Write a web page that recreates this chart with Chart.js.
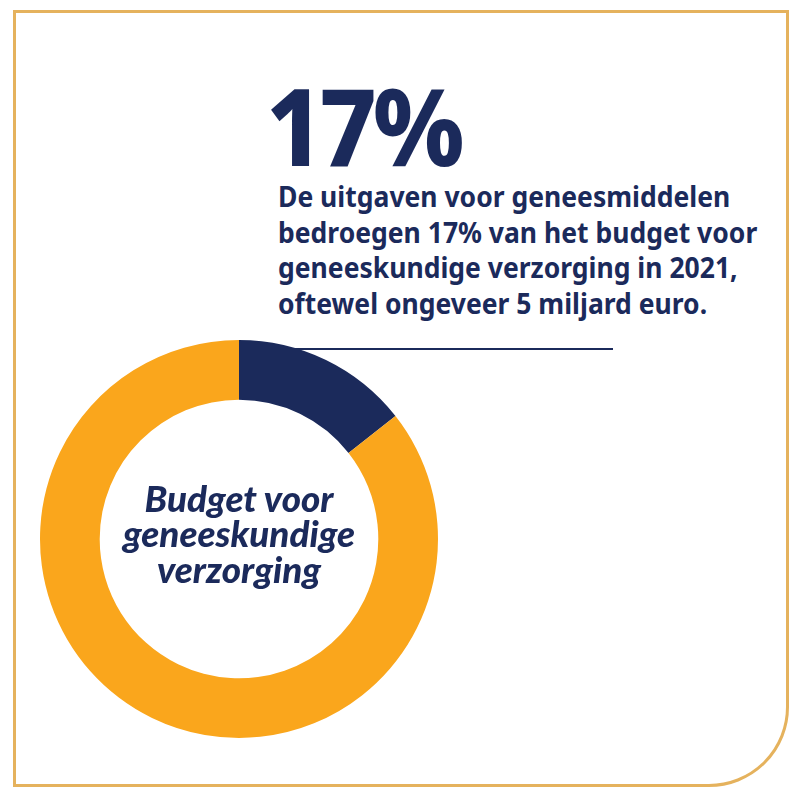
<!DOCTYPE html>
<html><head><meta charset="utf-8">
<script src="https://cdn.jsdelivr.net/npm/chart.js@4"></script>
<style>
html,body{margin:0;padding:0;background:#fff;width:800px;height:800px;overflow:hidden}
#frame{position:absolute;left:13px;top:10px;width:770px;height:771px;border:3px solid #E5B25D;border-bottom-right-radius:80px;box-sizing:content-box}
#chartBox{position:absolute;left:39px;top:339px;width:400px;height:400px}
.t{position:absolute;white-space:nowrap;color:#1B2A5B;font-family:"Noto Sans",sans-serif;transform-origin:0 0}
#big{left:266px;top:60px;font-family:"Noto Sans";font-size:107px;font-weight:800;line-height:130px;letter-spacing:-4px;transform:scaleX(.925)}
.b{left:278px;font-size:28.5px;font-weight:700;line-height:36px;transform:scaleX(.93)}
.c{left:39px;width:400px;text-align:center;font-family:Lato;font-style:italic;font-weight:900;font-size:36.8px;line-height:36px}
#rule{position:absolute;left:290px;top:348px;width:323px;height:1.5px;background:#1B2A5B}
</style></head><body>
<div id="frame"></div>
<div id="rule"></div>
<div id="chartBox"><canvas id="c" width="400" height="400"></canvas></div>
<div id="texts"></div>
<script>
const categories = ["Geneesmiddelen", "Overige geneeskundige verzorging"];
const shares = [14.4, 85.6];
const sliceColors = ["#1B2A5B", "#FAA61C"];
const bigText = "17%";
const bodyLines = ["De uitgaven voor geneesmiddelen","bedroegen 17% van het budget voor","geneeskundige verzorging in 2021,","oftewel ongeveer 5 miljard euro."];
const centerLines = ["Budget voor","geneeskundige","verzorging"];
const bodyTops = [178,214,249,285];
const centerTops = [480,515,551];

const host = document.getElementById("texts");
function add(cls, txt, top, id){
  const d=document.createElement("div");d.className="t "+cls;d.textContent=txt;
  if(id)d.id=id;if(top!=null)d.style.top=top+"px";host.appendChild(d);
}
add("", bigText, null, "big");
bodyLines.forEach((l,i)=>add("b",l,bodyTops[i]));
centerLines.forEach((l,i)=>add("c",l,centerTops[i]));

new Chart(document.getElementById("c"),{
  type:"doughnut",
  data:{labels:categories,datasets:[{data:shares,backgroundColor:sliceColors,borderWidth:0}]},
  options:{responsive:false,animation:false,cutout:"70%",layout:{padding:1},
    plugins:{legend:{display:false},tooltip:{enabled:false}}}
});
</script></body></html>
